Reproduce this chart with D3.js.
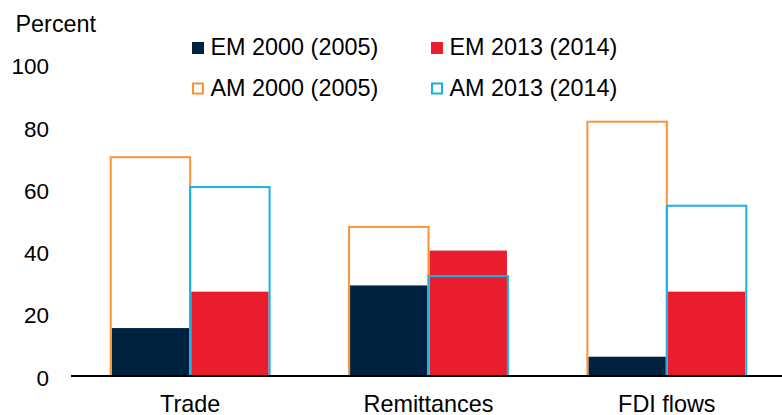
<!DOCTYPE html>
<html>
<head>
<meta charset="utf-8">
<script src="https://cdn.jsdelivr.net/npm/d3@7"></script>
<style>
  body { margin: 0; background: #fff; }
  svg { display: block; font-family: "Liberation Sans", Arial, sans-serif; }
</style>
</head>
<body>
<svg width="782" height="415"></svg>
<script>
var categories = ["Trade", "Remittances", "FDI flows"];
var emOld = [15.4, 29.1, 6.2];    // EM 2000 (2005)
var emNew = [27.1, 40.3, 27.1];   // EM 2013 (2014)
var amOld = [70.3, 47.9, 81.7];   // AM 2000 (2005)
var amNew = [60.7, 32.1, 54.7];   // AM 2013 (2014)
var yTicks = [0, 20, 40, 60, 80, 100];

var navy = "#00223f", red = "#ea1d2f", orange = "#f7943a", cyan = "#19b0e3";

var svg = d3.select("svg");

var y = d3.scaleLinear().domain([0, 100]).range([376, 64.75]);
var x = d3.scaleBand().domain(categories).range([71, 786])
    .paddingInner(1 / 3).paddingOuter(1 / 6);
var sub = d3.scaleBand().domain(["old", "new"]).range([0, x.bandwidth()]);

// y tick labels, no axis line
var yAxis = d3.axisLeft(y).tickValues(yTicks).tickSize(0).tickPadding(0);
var gy = svg.append("g").attr("transform", "translate(49,0)").call(yAxis);
gy.select(".domain").remove();
gy.selectAll("text")
    .attr("font-size", 22.5)
    .attr("font-family", "Liberation Sans, Arial, sans-serif")
    .attr("fill", "#000")
    .attr("dy", "0.4em");

svg.append("text")
    .attr("x", 15.5).attr("y", 31.5)
    .attr("font-size", 23.4)
    .text("Percent");

function filled(values, key, color) {
    svg.append("g").selectAll("rect")
        .data(values)
      .enter().append("rect")
        .attr("x", function(d, i) { return x(categories[i]) + sub(key) + 1; })
        .attr("width", sub.bandwidth() - 2)
        .attr("y", function(d) { return y(d); })
        .attr("height", function(d) { return y(0) - y(d); })
        .attr("fill", color);
}

function outlined(values, key, color) {
    svg.append("g").selectAll("rect")
        .data(values)
      .enter().append("rect")
        .attr("x", function(d, i) { return x(categories[i]) + sub(key); })
        .attr("width", sub.bandwidth())
        .attr("y", function(d) { return y(d); })
        .attr("height", function(d) { return y(0) - y(d); })
        .attr("fill", "none")
        .attr("stroke", color)
        .attr("stroke-width", 2);
}

filled(emOld, "old", navy);
filled(emNew, "new", red);
outlined(amOld, "old", orange);
outlined(amNew, "new", cyan);

// baseline
svg.append("line")
    .attr("x1", 71).attr("x2", 782)
    .attr("y1", y(0)).attr("y2", y(0))
    .attr("stroke", "#000").attr("stroke-width", 2);

// category labels
svg.append("g").selectAll("text")
    .data(categories)
  .enter().append("text")
    .attr("x", function(d) { return x(d) + x.bandwidth() / 2; })
    .attr("y", 411.5)
    .attr("text-anchor", "middle")
    .attr("font-size", 23.4)
    .text(function(d) { return d; });

// legend
var legend = [
    { label: "EM 2000 (2005)", color: navy, fill: true, lx: 192, ly: 42 },
    { label: "EM 2013 (2014)", color: red, fill: true, lx: 431, ly: 42 },
    { label: "AM 2000 (2005)", color: orange, fill: false, lx: 192, ly: 82.5 },
    { label: "AM 2013 (2014)", color: cyan, fill: false, lx: 431, ly: 82.5 }
];

var lg = svg.append("g").selectAll("g")
    .data(legend)
  .enter().append("g")
    .attr("transform", function(d) { return "translate(" + d.lx + "," + d.ly + ")"; });

lg.append("rect")
    .attr("x", function(d) { return d.fill ? 0 : 1; })
    .attr("y", function(d) { return d.fill ? 0 : 1; })
    .attr("width", function(d) { return d.fill ? 12 : 10; })
    .attr("height", function(d) { return d.fill ? 12 : 10; })
    .attr("fill", function(d) { return d.fill ? d.color : "none"; })
    .attr("stroke", function(d) { return d.fill ? "none" : d.color; })
    .attr("stroke-width", 2);

lg.append("text")
    .attr("x", 18.5).attr("y", 13)
    .attr("font-size", 23.4)
    .text(function(d) { return d.label; });
</script>
</body>
</html>
